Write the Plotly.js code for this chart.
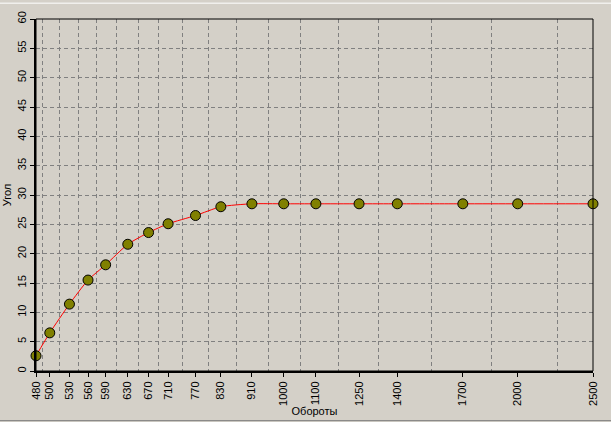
<!DOCTYPE html>
<html>
<head>
<meta charset="utf-8">
<script src="https://cdn.plot.ly/plotly-3.0.1.min.js"></script>
<style>
html,body{margin:0;padding:0;background:#D4D0C8;}
#chart{width:611px;height:422px;}
</style>
</head>
<body>
<div id="chart"></div>
<script>
// Data
const rpm = [480, 500, 530, 560, 590, 630, 670, 710, 770, 830, 910, 1000, 1100, 1250, 1400, 1700, 2000, 2500];
const angle = [2.6, 6.5, 11.4, 15.5, 18.1, 21.6, 23.6, 25.1, 26.5, 28.0, 28.5, 28.5, 28.5, 28.5, 28.5, 28.5, 28.5, 28.5];
const rpmLabels = rpm.map(String);
const xTitle = 'Обороты';
const yTitle = 'Угол';

// vertical grid lines sit midway between neighbouring categories
const gridVals = rpm.slice(1).map((v, i) => (v + rpm[i]) / 2);

const xr = [Math.log10(480), Math.log10(2500)];
const fontFam = '"Liberation Sans", Arial, sans-serif';

const trace = {
  x: rpm, y: angle,
  type: 'scatter', mode: 'lines+markers',
  line: {color: '#FF0000', width: 1, shape: 'spline', smoothing: 0.6},
  marker: {color: '#808000', size: 10, line: {color: '#000000', width: 1}},
  cliponaxis: false,
  hoverinfo: 'x+y'
};
const gridTrace = {x: [rpm[0]], y: [0], xaxis: 'x2', mode: 'markers', marker: {opacity: 0}, hoverinfo: 'skip', showlegend: false};

const layout = {
  width: 611, height: 422,
  paper_bgcolor: '#D4D0C8', plot_bgcolor: '#D4D0C8',
  margin: {l: 36, r: 18, t: 19, b: 51},
  showlegend: false,
  font: {family: fontFam, size: 11, color: '#000'},
  xaxis: {
    type: 'log', range: xr,
    tickvals: rpm, ticktext: rpmLabels, tickangle: -90,
    ticks: 'outside', ticklen: 4, tickcolor: '#000',
    showgrid: false, zeroline: false,
    showline: true, linecolor: '#000', linewidth: 2,
    tickfont: {family: fontFam, size: 11, color: '#000'},
    title: {text: xTitle, font: {family: fontFam, size: 11, color: '#000'}, standoff: 1},
    automargin: false
  },
  xaxis2: {
    type: 'log', range: xr, overlaying: 'x', side: 'bottom',
    tickvals: gridVals, showticklabels: false, ticks: '',
    showgrid: true, gridcolor: '#808080', gridwidth: 1, griddash: '4px,3px',
    showline: false, zeroline: false
  },
  yaxis: {
    range: [0, 60], dtick: 5, tick0: 0, tickangle: -90,
    ticks: 'outside', ticklen: 4, tickcolor: '#000',
    showgrid: true, gridcolor: '#808080', gridwidth: 1, griddash: '4px,3px',
    zeroline: false,
    showline: true, linecolor: '#000', linewidth: 2,
    tickfont: {family: fontFam, size: 11, color: '#000'},
    title: {text: yTitle, font: {family: fontFam, size: 11, color: '#000'}, standoff: 2},
    automargin: false
  },
  shapes: [
    {type: 'rect', xref: 'paper', yref: 'paper', x0: 0, x1: 1, y0: 0, y1: 1, line: {color: '#000', width: 1}, layer: 'above'},
    {type: 'line', xref: 'paper', yref: 'paper', x0: -0.07, x1: 1.04, y0: 1.045, y1: 1.045, line: {color: '#FFFFFF', width: 1}},
    {type: 'line', xref: 'paper', yref: 'paper', x0: 1.036, x1: 1.036, y0: -0.145, y1: 1.045, line: {color: '#FFFFFF', width: 1}},
    {type: 'line', xref: 'paper', yref: 'paper', x0: 1.041, x1: 1.041, y0: -0.145, y1: 1.05, line: {color: '#808080', width: 1}},
    {type: 'line', xref: 'paper', yref: 'paper', x0: -0.07, x1: 1.041, y0: -0.141, y1: -0.141, line: {color: '#808080', width: 1}}
  ]
};

Plotly.newPlot('chart', [gridTrace, trace], layout, {displayModeBar: false, staticPlot: true});
</script>
</body>
</html>
